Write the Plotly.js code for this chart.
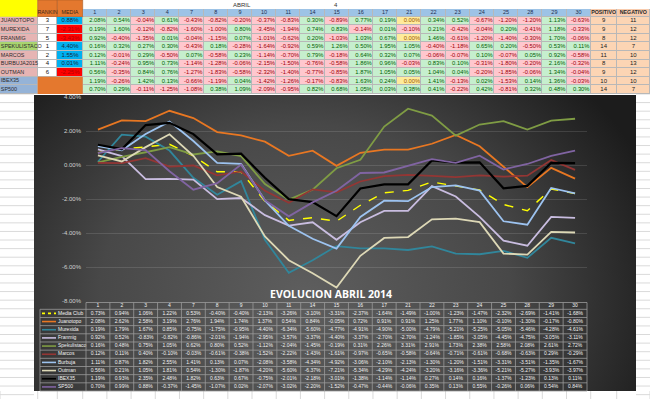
<!DOCTYPE html>
<html><head><meta charset="utf-8">
<script src="https://cdn.plot.ly/plotly-3.0.1.min.js"></script>
<style>html,body{margin:0;padding:0;background:#fff;overflow:hidden}#chart{width:650px;height:399px}</style>
</head><body><div id="chart"></div>
<script>
// ---------------- DATA ----------------
const dates = ['1','2','3','4','7','8','9','10','11','14','15','16','17','21','22','23','24','25','28','29','30'];
const players = ['JUANOTOPO','MUREXIDA','FRANMIG','SPEKULISTACO','MARCOS','BURBUJA2015','OUTMAN','IBEX35','SP500'];
const rankin = ['3','7','5','1','2','4','6','',''];
const media = [0.88,-2.31,-3.43,4.40,1.55,0.01,-2.25,null,null];
const positivo = [9,9,8,14,11,8,9,10,14];
const negativo = [11,12,12,7,10,13,12,10,7];

// daily results (top table)
const dJuanotopo = [2.08,0.54,-0.04,0.61,-0.43,-0.82,-0.20,-0.37,-0.83,0.30,-0.89,0.77,0.19,0.00,0.34,0.52,-0.67,-1.20,-1.20,1.13,-0.63];
const dMurexida  = [0.19,1.60,-0.12,-0.82,-1.60,-1.00,0.80,-3.45,-1.94,0.74,0.83,-0.14,0.01,-0.10,0.21,-0.42,-0.04,0.20,-0.41,1.18,-0.33];
const dFranmig   = [0.92,-0.40,-1.35,0.01,-0.04,-1.15,0.07,-1.01,-0.62,0.20,-1.03,1.03,0.67,0.00,1.46,-0.61,-1.20,-1.40,-0.30,1.70,-0.06];
const dSpek      = [0.16,0.32,0.27,0.30,-0.43,0.18,-0.28,-1.64,-0.92,0.59,1.26,0.50,1.95,1.05,-0.40,-1.18,0.65,0.20,-0.50,0.53,0.11];
const dMarcos    = [0.12,-0.01,0.29,-0.50,0.07,-0.58,0.23,-1.14,-0.70,0.79,-0.18,0.64,0.32,0.07,-0.06,-0.07,0.10,-0.07,0.05,0.92,-0.58];
const dBurbuja   = [1.11,-0.24,0.95,0.73,-1.14,-1.28,-0.06,-2.15,-1.50,-0.76,-0.58,1.86,0.96,-0.03,0.83,0.10,-0.31,-1.80,-0.20,2.16,-0.32];
const dOutman    = [0.56,-0.35,0.84,0.76,-1.27,-1.83,-0.58,-2.32,-1.40,-0.77,-0.85,1.87,1.05,0.05,1.04,0.04,-0.20,-1.85,-0.06,1.34,-0.04];
const dIbex      = [1.19,-0.26,1.42,0.13,-0.66,-1.19,0.04,-1.42,-1.26,-0.17,-0.83,1.63,0.24,0.00,1.41,-0.13,0.02,-1.53,0.14,1.36,-0.03];
const dSp500     = [0.70,0.29,-0.11,-1.25,-1.08,0.38,1.09,-2.09,-0.95,0.82,0.68,1.05,0.03,0.38,0.41,-0.22,0.42,-0.81,0.32,0.48,0.30];

// accumulated results (chart + bottom table)
const seriesNames = ['Media Club','Juanotopo','Murexida','Franmig','Spekulistaco','Marcos','Burbuja','Outman','IBEX35','SP500'];
const cMediaClub = [0.73,0.94,1.06,1.22,0.53,-0.40,-0.40,-2.13,-3.26,-3.10,-3.31,-2.37,-1.64,-1.49,-1.00,-1.23,-1.47,-2.32,-2.69,-1.41,-1.68];
const cJuanotopo = [2.08,2.62,2.58,3.19,2.76,1.94,1.74,1.37,0.54,0.84,-0.05,0.72,0.91,0.91,1.25,1.77,1.10,-0.10,-1.30,-0.17,-0.80];
const cMurexida  = [0.19,1.79,1.67,0.85,-0.75,-1.75,-0.95,-4.40,-6.34,-5.60,-4.77,-4.91,-4.90,-5.00,-4.79,-5.21,-5.25,-5.05,-5.46,-4.28,-4.61];
const cFranmig   = [0.92,0.52,-0.83,-0.82,-0.86,-2.01,-1.94,-2.95,-3.57,-3.37,-4.40,-3.37,-2.70,-2.70,-1.24,-1.85,-3.05,-4.45,-4.75,-3.05,-3.11];
const cSpek      = [0.16,0.48,0.75,1.05,0.62,0.80,0.52,-1.12,-2.04,-1.45,-0.19,0.31,2.26,3.31,2.91,1.73,2.38,2.58,2.08,2.61,2.72];
const cMarcos    = [0.12,0.11,0.40,-0.10,-0.03,-0.61,-0.38,-1.52,-2.22,-1.43,-1.61,-0.97,-0.65,-0.58,-0.64,-0.71,-0.61,-0.68,-0.63,0.29,-0.29];
const cBurbuja   = [1.11,0.87,1.82,2.55,1.41,0.13,0.07,-2.08,-3.58,-4.34,-4.92,-3.06,-2.10,-2.13,-1.30,-1.20,-1.51,-3.31,-3.51,-1.35,-1.67];
const cOutman    = [0.56,0.21,1.05,1.81,0.54,-1.30,-1.87,-4.20,-5.60,-6.37,-7.21,-5.34,-4.29,-4.24,-3.20,-3.16,-3.36,-5.21,-5.27,-3.93,-3.97];
const cIbex      = [1.19,0.93,2.35,2.48,1.82,0.63,0.67,-0.75,-2.01,-2.18,-3.01,-1.38,-1.14,-1.14,0.27,0.14,0.16,-1.37,-1.23,0.13,0.11];
const cSp500     = [0.70,0.99,0.88,-0.37,-1.45,-1.07,0.02,-2.07,-3.02,-2.20,-1.52,-0.47,-0.44,-0.06,0.35,0.13,0.55,-0.26,0.06,0.54,0.84];

const yTicks = [-8,-6,-4,-2,0,2,4];
const yTickText = ['-8.00%','-6.00%','-4.00%','-2.00%','0.00%','2.00%','4.00%'];

// ---------------- STYLE / GEOMETRY ----------------
const W = 650, H = 399;
const CH_L = 34, CH_R = 636, CH_T = 95, CH_B = 391;   // chart-object frame (px)
const dailyRows = [dJuanotopo,dMurexida,dFranmig,dSpek,dMarcos,dBurbuja,dOutman,dIbex,dSp500];
const cumSeries = [cMediaClub,cJuanotopo,cMurexida,cFranmig,cSpek,cMarcos,cBurbuja,cOutman,cIbex,cSp500];
const lineColors = ['#ffff00','#e87722','#31869b','#c9bde0','#7f9c44','#943634','#9dc3f0','#ddd8b6','#000000','#8064a2'];
const lineDash = ['dash','solid','solid','solid','solid','solid','solid','solid','solid','solid'];
const lineWidth = [1.4,1.8,1.8,1.8,1.8,1.8,1.8,1.8,2.2,1.8];
const fmt = v => v.toFixed(2) + '%';
const font = 'Liberation Sans, Arial, sans-serif';

// top table geometry (axis units = px)
const topColW = [37.7,19.6,25.4].concat(dates.map(()=>24.19)).concat([26,33.3]);
const topXE = [0]; topColW.forEach(w=>topXE.push(topXE[topXE.length-1]+w));
const topRowH = [7.7].concat(players.map(()=>8.59));
const topYE = [9]; topRowH.forEach(h=>topYE.push(topYE[topYE.length-1]+h));

// palette codes for heatmap cells
const pal = ['#9dc3e6','#f8cbad','#e6b4b3','#a9d46f','#95b3d7','#ffffff','#00b0f0','#ff0000','#c6efce','#ffc7ce','#ffeb9c','#fcd5b4'];
const K = {hdr:0,salmon:1,pink:2,green:3,idx:4,white:5,mBlue:6,mRed:7,pos:8,neg:9,zero:10,pn:11};
const nameFill = ['pink','pink','pink','green','pink','pink','pink','idx','idx'];
const cs = []; pal.forEach((c,i)=>{cs.push([i/pal.length,c]); cs.push([(i+1)/pal.length,c]);});

const z = [];
z.push([null,null,null].concat(dates.map(()=>K.hdr)).concat([K.salmon,K.salmon]));
players.forEach((p,i)=>{
  const row = [K[nameFill[i]], i<7?K.white:null, i<7?(media[i]>0?K.mBlue:K.mRed):null];
  dailyRows[i].forEach(v=>row.push(v>0?K.pos:(v<0?K.neg:K.zero)));
  row.push(K.pn,K.pn);
  z.push(row);
});

const traces = [];
// main chart lines
cumSeries.forEach((arr,i)=>{
  traces.push({type:'scatter',mode:'lines',x:dates,y:arr,name:seriesNames[i],
    line:{color:lineColors[i],width:lineWidth[i],dash:lineDash[i]},xaxis:'x',yaxis:'y',hoverinfo:'skip',showlegend:false});
});

// top table fills
traces.push({type:'heatmap',x:topXE,y:topYE,z:z,zmin:-0.5,zmax:pal.length-0.5,colorscale:cs,showscale:false,
  xgap:1,ygap:1,xaxis:'x2',yaxis:'y2',hoverinfo:'skip'});

// top table texts
const cx = c => (topXE[c]+topXE[c+1])/2, cy = r => (topYE[r]+topYE[r+1])/2;
const tC = {x:[],y:[],t:[],c:[],s:[]}, tR = {x:[],y:[],t:[],c:[],s:[]}, tL = {x:[],y:[],t:[],c:[],s:[]};
const add = (o,x,y,t,c,s)=>{o.x.push(x);o.y.push(y);o.t.push(t);o.c.push(c);o.s.push(s);};
add(tC,cx(1),cy(0),'RANKIN','#3a2a1a',5.3);
add(tC,cx(2),cy(0),'MEDIA','#3a2a1a',5.3);
dates.forEach((d,j)=>add(tC,cx(3+j),cy(0),d,'#1f3050',5.5));
add(tC,cx(24),cy(0),'<b>POSITIVO</b>','#2a2a2a',5.3);
add(tC,cx(25),cy(0),'<b>NEGATIVO</b>','#2a2a2a',5.3);
players.forEach((p,i)=>{
  const r = i+1;
  add(tL,topXE[0]+0.8,cy(r),p,'#2b2b2b',5.4);
  if(rankin[i]) add(tC,cx(1),cy(r),rankin[i],'#111',6);
  if(media[i]!==null) add(tC,cx(2),cy(r),fmt(media[i]),media[i]>0?'#1a2a40':'#b00000',6);
  dailyRows[i].forEach((v,j)=>add(tR,topXE[4+j]-1.2,cy(r),fmt(v),v>0?'#006100':(v<0?'#9c0006':'#9c5700'),5.8));
  add(tC,cx(24),cy(r),String(positivo[i]),'#222',6);
  add(tC,cx(25),cy(r),String(negativo[i]),'#222',6);
});
[[tC,'middle center'],[tR,'middle left'],[tL,'middle right']].forEach(([o,pos])=>{
  traces.push({type:'scatter',mode:'text',x:o.x,y:o.y,text:o.t,textposition:pos,
    textfont:{family:font,size:o.s,color:o.c},xaxis:'x2',yaxis:'y2',hoverinfo:'skip',showlegend:false,cliponaxis:false});
});

// bottom data table geometry
const botXE = [40,86]; dates.forEach(()=>botXE.push(botXE[botXE.length-1]+23.857));
const botYE = [302.5,309.3]; seriesNames.forEach(()=>botYE.push(botYE[botYE.length-1]+8.17));
const bx = c => (botXE[c]+botXE[c+1])/2, by = r => (botYE[r]+botYE[r+1])/2;
const bT = {x:[],y:[],t:[]}, bL = {x:[],y:[],t:[]};
dates.forEach((d,j)=>{bT.x.push(bx(j+1));bT.y.push(by(0));bT.t.push(d);});
cumSeries.forEach((arr,i)=>{
  bL.x.push(botXE[0]+18); bL.y.push(by(i+1)); bL.t.push(seriesNames[i]);
  arr.forEach((v,j)=>{bT.x.push(bx(j+1));bT.y.push(by(i+1));bT.t.push(fmt(v));});
});
traces.push({type:'scatter',mode:'text',x:bT.x,y:bT.y,text:bT.t,textposition:'middle center',
  textfont:{family:font,size:5,color:'#f2f2f2'},xaxis:'x2',yaxis:'y3',hoverinfo:'skip',showlegend:false,cliponaxis:false});
traces.push({type:'scatter',mode:'text',x:bL.x,y:bL.y,text:bL.t,textposition:'middle right',
  textfont:{family:font,size:5,color:'#f2f2f2'},xaxis:'x2',yaxis:'y3',hoverinfo:'skip',showlegend:false,cliponaxis:false});

// shapes
const shapes = [];
// excel grid in white margins (right, left and bottom strips only)
for(let y=94; y<=H; y+=8.59){
  shapes.push({type:'line',xref:'paper',yref:'paper',x0:CH_R/W,x1:1,y0:1-y/H,y1:1-y/H,line:{color:'#dadada',width:1},layer:'below'});
  shapes.push({type:'line',xref:'paper',yref:'paper',x0:0,x1:CH_L/W,y0:1-y/H,y1:1-y/H,line:{color:'#dadada',width:1},layer:'below'});
}
topXE.forEach(xv=>shapes.push({type:'line',xref:'paper',yref:'paper',x0:xv/W,x1:xv/W,y0:0,y1:1-CH_B/H,line:{color:'#dadada',width:1},layer:'below'}));
// top table backdrop (borders)
shapes.push({type:'rect',xref:'x2',yref:'y2',x0:0,x1:W,y0:9,y1:topYE[topYE.length-1],fillcolor:'#b8b8b8',line:{width:0},layer:'below'});
shapes.push({type:'rect',xref:'x2',yref:'y2',x0:0,x1:topXE[1],y0:0,y1:topYE[1],fillcolor:'#ffff00',line:{width:0},layer:'below'});
shapes.push({type:'rect',xref:'x2',yref:'y2',x0:topXE[1],x1:topXE[2],y0:0,y1:topYE[1],fillcolor:'#e4782e',line:{color:'#a85a22',width:0.6},layer:'below'});
shapes.push({type:'rect',xref:'x2',yref:'y2',x0:topXE[2],x1:topXE[3],y0:0,y1:topYE[1],fillcolor:'#e4782e',line:{color:'#a85a22',width:0.6},layer:'below'});
shapes.push({type:'rect',xref:'x2',yref:'y2',x0:topXE[1],x1:topXE[3],y0:topYE[8],y1:topYE[10],fillcolor:'#e4782e',line:{width:0},layer:'below'});
// bottom table borders
const bc = '#9a9a9a';
shapes.push({type:'line',xref:'x2',yref:'y3',x0:botXE[1],x1:botXE[botXE.length-1],y0:botYE[0],y1:botYE[0],line:{color:bc,width:0.8}});
botYE.slice(1).forEach(yv=>shapes.push({type:'line',xref:'x2',yref:'y3',x0:botXE[0],x1:botXE[botXE.length-1],y0:yv,y1:yv,line:{color:bc,width:0.8}}));
shapes.push({type:'line',xref:'x2',yref:'y3',x0:botXE[0],x1:botXE[0],y0:botYE[1],y1:botYE[botYE.length-1],line:{color:bc,width:0.8}});
botXE.slice(1).forEach(xv=>shapes.push({type:'line',xref:'x2',yref:'y3',x0:xv,x1:xv,y0:botYE[0],y1:botYE[botYE.length-1],line:{color:bc,width:0.8}}));
// legend keys
seriesNames.forEach((n,i)=>{
  shapes.push({type:'line',xref:'x2',yref:'y3',x0:botXE[0]+2,x1:botXE[0]+16,y0:by(i+1),y1:by(i+1),
    line:{color:lineColors[i],width:1.6,dash:i===0?'dot':'solid'}});
});

// background gradient for the chart
const gw = CH_R-CH_L, gh = CH_B-CH_T;
const svg = '<svg xmlns="http://www.w3.org/2000/svg" width="'+gw+'" height="'+gh+'" viewBox="0 0 '+gw+' '+gh+'" preserveAspectRatio="none">'+
 '<defs><radialGradient id="g" cx="0.45" cy="0.68" r="0.62" gradientTransform="translate(0.45 0.68) scale(1 1.7) translate(-0.45 -0.68)">'+
 '<stop offset="0" stop-color="#5e5e5e"/><stop offset="0.55" stop-color="#484848"/><stop offset="1" stop-color="#1c1c1c"/></radialGradient></defs>'+
 '<rect width="'+gw+'" height="'+gh+'" fill="url(#g)"/></svg>';
const bgSrc = 'data:image/svg+xml;charset=utf-8,' + encodeURIComponent(svg);

const layout = {
  width:W,height:H,margin:{l:0,r:0,t:0,b:0},paper_bgcolor:'#ffffff',plot_bgcolor:'rgba(0,0,0,0)',
  showlegend:false,font:{family:font},
  images:[{source:bgSrc,xref:'paper',yref:'paper',x:CH_L/W,y:1-CH_T/H,sizex:gw/W,sizey:gh/H,xanchor:'left',yanchor:'top',sizing:'stretch',layer:'below'}],
  xaxis:{type:'category',domain:[86/W,587/W],range:[-0.5,dates.length-0.5],showticklabels:false,showgrid:false,zeroline:false,showline:false,ticks:'',fixedrange:true,anchor:'y'},
  yaxis:{domain:[1-301/H,1-97/H],range:[-8,4],tickmode:'array',tickvals:yTicks,ticktext:yTickText,showgrid:true,gridcolor:'rgba(255,255,255,0.12)',gridwidth:1,
    zeroline:false,showline:false,ticks:'',ticklabelstandoff:4,tickfont:{size:6,color:'#d0d0d0',family:font},fixedrange:true,anchor:'x'},
  xaxis2:{domain:[0,1],range:[0,W],visible:false,fixedrange:true,anchor:'y2'},
  yaxis2:{domain:[1-94.5/H,1],range:[94.5,0],visible:false,fixedrange:true,anchor:'x2'},
  yaxis3:{domain:[1-392/H,1-300/H],range:[392,300],visible:false,fixedrange:true,anchor:'x2'},
  shapes:shapes,
  annotations:[
    {xref:'x2',yref:'y2',x:242,y:4.5,text:'ABRIL',showarrow:false,font:{size:6,color:'#333',family:font}},
    {xref:'x2',yref:'y2',x:336,y:4.5,text:'4',showarrow:false,font:{size:6,color:'#333',family:font}},
    {xref:'paper',yref:'paper',x:331/W,y:1-294/H,yanchor:'middle',xanchor:'center',text:'<b>EVOLUCION ABRIL 2014</b>',showarrow:false,borderpad:0,
      font:{size:10.5,color:'#ffffff',family:'Open Sans, Liberation Sans, sans-serif'}}
  ]
};
Plotly.newPlot('chart',traces,layout,{displayModeBar:false,staticPlot:true});
</script></body></html>
